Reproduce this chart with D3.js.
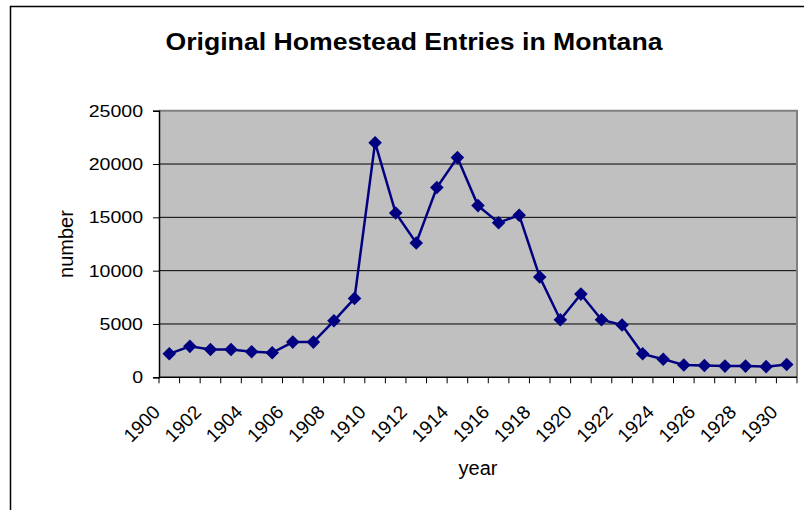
<!DOCTYPE html>
<html><head><meta charset="utf-8">
<script src="https://cdn.jsdelivr.net/npm/d3@7/dist/d3.min.js"></script>
<style>body{margin:0;background:#fff}svg{display:block}text{font-family:"Liberation Sans",Arial,sans-serif}</style>
</head><body><svg id="c" width="804" height="510"></svg>
<script>
const years = d3.range(1900, 1931);
const entries = [2200, 2900, 2600, 2600, 2400, 2300, 3300, 3300, 5300, 7400,
  22000, 15400, 12600, 17800, 20600, 16100, 14500, 15200, 9400, 5400,
  7800, 5400, 4900, 2200, 1700, 1150, 1100, 1050, 1050, 1000, 1200];
const yTicks = [0, 5000, 10000, 15000, 20000, 25000];
const xLabels = years.filter((y, i) => i % 2 === 0);
const title = "Original Homestead Entries in Montana";
const xTitle = "year", yTitle = "number";

const svg = d3.select("#c");
svg.append("rect").attr("width", 804).attr("height", 510).attr("fill", "#fff");
svg.append("rect").attr("x", 10.5).attr("y", 6.5).attr("width", 900).attr("height", 600)
  .attr("fill", "none").attr("stroke", "#000").attr("stroke-width", 1.5);

const L = 159, R = 797, T = 110.7, B = 377.3;
const x = d3.scaleBand().domain(years).range([L, R]).padding(0);
const y = d3.scaleLinear().domain([0, 25000]).range([B, T]);
const cx = d => x(d) + x.bandwidth() / 2;

svg.append("rect").attr("x", L).attr("y", T).attr("width", R - L).attr("height", B - T).attr("fill", "#c0c0c0");
svg.append("g").selectAll("line").data(yTicks.slice(1, -1)).join("line")
  .attr("x1", L).attr("x2", R).attr("y1", d => y(d)).attr("y2", d => y(d))
  .attr("stroke", "#000").attr("stroke-width", 1);
svg.append("path").attr("d", `M${L},${T}H${R}V${B}`).attr("fill", "none").attr("stroke", "#808080").attr("stroke-width", 2);

// y axis
const yAxis = svg.append("g").attr("transform", `translate(${L},0)`)
  .call(d3.axisLeft(y).tickValues(yTicks).tickSize(6).tickFormat(""));
yAxis.select(".domain").attr("stroke", "#000").attr("stroke-width", 1.5);
svg.append("g").selectAll("text").data(yTicks).join("text")
  .attr("transform", d => `translate(143,${y(d)}) scale(1.15,1)`)
  .attr("text-anchor", "end").attr("dy", "0.35em").attr("font-size", 17).text(d => d);

// x axis: ticks at category boundaries
const xg = svg.append("g");
xg.append("line").attr("x1", L).attr("x2", R).attr("y1", B).attr("y2", B).attr("stroke", "#000").attr("stroke-width", 1.5);
xg.selectAll("line.t").data(years.concat([1931])).join("line").attr("class", "t")
  .attr("x1", d => d === 1931 ? R : x(d)).attr("x2", d => d === 1931 ? R : x(d))
  .attr("y1", B).attr("y2", B + 6).attr("stroke", "#000");
xg.selectAll("text").data(xLabels).join("text")
  .attr("transform", d => `translate(${cx(d) - 8},${B + 36}) rotate(-45)`)
  .attr("text-anchor", "end").attr("font-size", 19).text(d => d);

// line and markers
const line = d3.line().x((d, i) => cx(years[i])).y(d => y(d));
svg.append("path").datum(entries).attr("d", line).attr("fill", "none")
  .attr("stroke", "#000080").attr("stroke-width", 2.5);
svg.append("g").selectAll("path").data(entries).join("path")
  .attr("transform", (d, i) => `translate(${cx(years[i])},${y(d)}) rotate(45)`)
  .attr("d", d3.symbol().type(d3.symbolSquare).size(92)).attr("fill", "#000080");

// titles
svg.append("text").attr("x", 414).attr("y", 50).attr("text-anchor", "middle")
  .attr("font-size", 23).attr("font-weight", "bold")
  .attr("textLength", 497).attr("lengthAdjust", "spacingAndGlyphs").text(title);
svg.append("text").attr("x", (L + R) / 2).attr("y", 475).attr("text-anchor", "middle")
  .attr("font-size", 20).text(xTitle);
svg.append("text").attr("transform", `translate(73,${(T + B) / 2}) rotate(-90)`).attr("text-anchor", "middle")
  .attr("font-size", 20).text(yTitle);
</script></body></html>
